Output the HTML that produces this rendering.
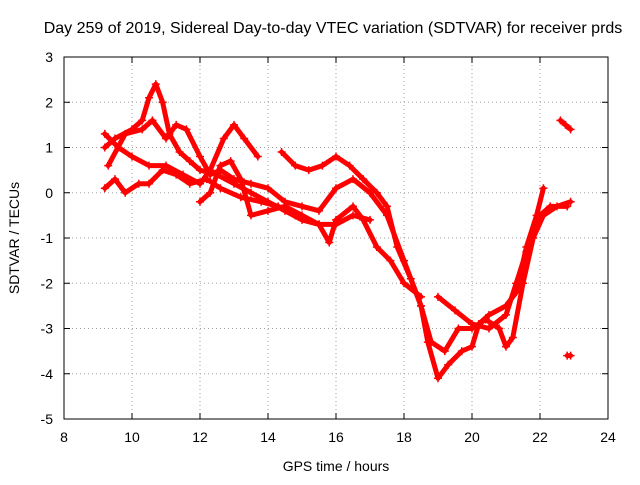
<!DOCTYPE html>
<html><head><meta charset="utf-8"><style>
body{margin:0;background:#fff;}
svg text{font-family:"Liberation Sans",sans-serif;font-size:14px;fill:#000;}
</style></head><body>
<svg id="chart" width="640" height="480" viewBox="0 0 640 480" xmlns="http://www.w3.org/2000/svg">
<rect width="640" height="480" fill="#fff"/>
<text x="333" y="33" text-anchor="middle" style="font-size:16px">Day 259 of 2019, Sidereal Day-to-day VTEC variation (SDTVAR) for receiver prds</text>
<text x="336" y="471" text-anchor="middle">GPS time / hours</text>
<text transform="translate(19,238) rotate(-90)" text-anchor="middle">SDTVAR / TECUs</text>
<g id="grid"></g><g id="ticks"></g><g id="series"></g>
<rect x="64" y="57" width="544" height="362" fill="none" stroke="#000" stroke-width="1"/>
</svg>
<script>
const xTicks=[8,10,12,14,16,18,20,22,24];
const yTicks=[3,2,1,0,-1,-2,-3,-4,-5];
const trackA=[[9.2,1.0],[9.5,1.2],[10.0,1.4],[10.3,1.6],[10.5,2.1],[10.7,2.4],[10.9,2.0],[11.1,1.3],[11.4,0.9],[11.7,0.7],[12.0,0.5],[12.5,0.4],[13.0,0.2],[13.5,0.0],[14.0,-0.2],[14.5,-0.4],[15.0,-0.6],[15.5,-0.7],[16.0,-0.7],[16.5,-0.5],[17.0,-0.6]];
const trackB=[[9.2,1.3],[9.6,1.0],[10.0,0.8],[10.5,0.6],[11.0,0.6],[11.5,0.4],[12.0,0.2],[12.3,0.5],[12.7,1.2],[13.0,1.5],[13.3,1.2],[13.7,0.8]];
const trackB2=[[14.4,0.9],[14.8,0.6],[15.2,0.5],[15.6,0.6],[16.0,0.8],[16.4,0.6],[16.8,0.3],[17.2,0.0],[17.5,-0.3],[17.8,-1.2],[18.2,-1.9],[18.5,-2.5],[18.7,-3.3],[19.0,-4.1],[19.3,-3.8],[19.7,-3.5],[20.0,-3.4],[20.2,-2.9],[20.5,-2.7],[21.0,-2.5],[21.3,-2.2],[21.6,-1.2],[21.9,-0.5],[22.1,0.1]];
const trackC=[[9.2,0.1],[9.5,0.3],[9.8,0.0],[10.2,0.2],[10.5,0.2],[10.9,0.5],[11.3,0.4],[11.7,0.2],[12.2,0.3],[12.6,0.1],[13.2,-0.1],[13.8,-0.2],[14.3,-0.3],[14.8,-0.5]];
const trackD=[[9.3,0.6],[9.8,1.3],[10.3,1.4],[10.6,1.6],[11.0,1.2],[11.3,1.5],[11.6,1.4],[12.0,0.8],[12.3,0.4],[12.6,0.5],[13.0,0.3],[13.5,0.2],[14.0,0.1],[14.5,-0.2],[15.0,-0.3],[15.5,-0.4],[16.0,0.1],[16.5,0.3],[17.0,0.0],[17.5,-0.5],[18.0,-1.5],[18.5,-2.5],[18.8,-3.3],[19.2,-3.5],[19.6,-3.0],[20.0,-3.0],[20.4,-2.8],[20.8,-3.0],[21.0,-3.4],[21.2,-3.2],[21.5,-2.0],[21.8,-1.0],[22.1,-0.5],[22.5,-0.3],[22.9,-0.2]];
const trackE=[[12.0,-0.2],[12.3,0.0],[12.6,0.6],[12.9,0.7],[13.2,0.3],[13.5,-0.5],[14.0,-0.4],[14.5,-0.3],[15.0,-0.5],[15.5,-0.7],[15.8,-1.1],[16.0,-0.6],[16.5,-0.3],[16.8,-0.6],[17.2,-1.2],[17.6,-1.5],[18.0,-2.0],[18.5,-2.3]];
const trackE2=[[19.0,-2.3],[19.5,-2.6],[20.0,-2.9],[20.5,-3.0],[21.0,-2.7],[21.3,-2.0],[21.6,-1.3],[22.0,-0.5],[22.3,-0.3],[22.8,-0.3]];
const trackF=[[22.6,1.6],[22.75,1.5],[22.9,1.4]];
const trackG=[[22.8,-3.6],[22.9,-3.6]];
const tracks=[trackA,trackB,trackB2,trackC,trackD,trackE,trackE2,trackF,trackG];

const NS="http://www.w3.org/2000/svg";
const X=t=>64+(t-8)*34, Y=v=>57+(3-v)*45.25;
const grid=document.getElementById('grid'),ticks=document.getElementById('ticks'),ser=document.getElementById('series');
function mk(tag,at,parent){const e=document.createElementNS(NS,tag);for(const k in at)e.setAttribute(k,at[k]);parent.appendChild(e);return e;}
xTicks.forEach(t=>{
  if(t>8&&t<24){const g=mk('line',{x1:X(t),x2:X(t),y1:57,y2:419,stroke:'#a0a0a0','stroke-dasharray':'1,3'},grid);
  
  }
  const tk=mk('path',{d:`M${X(t)} 419v-6M${X(t)} 57v6`,stroke:'#000'},ticks);
  
  
  const l=mk('text',{x:X(t),y:442,'text-anchor':'middle'},ticks);l.textContent=t;
  
  
});
yTicks.forEach(v=>{
  if(v>-5&&v<3){const g=mk('line',{x1:64,x2:608,y1:Y(v),y2:Y(v),stroke:'#a0a0a0','stroke-dasharray':'1,3'},grid);
  
  }
  const tk=mk('path',{d:`M64 ${Y(v)}h6M608 ${Y(v)}h-6`,stroke:'#000'},ticks);
  
  
  const l=mk('text',{x:53,y:Y(v)+5,'text-anchor':'end'},ticks);l.textContent=v;
  
  
});
tracks.forEach((tr,i)=>{
  const g=mk('g',{},ser);
  
  
  mk('polyline',{points:tr.map(p=>X(p[0])+','+Y(p[1])).join(' '),fill:'none',stroke:'#f00','stroke-width':5,'stroke-linejoin':'round','stroke-linecap':'round'},g);
  tr.forEach(p=>{
    const m=mk('path',{d:`M${X(p[0])-4} ${Y(p[1])}h8M${X(p[0])} ${Y(p[1])-4}v8`,stroke:'#f00','stroke-width':1.5},g);
    
    
  });
});
</script>
</body></html>
